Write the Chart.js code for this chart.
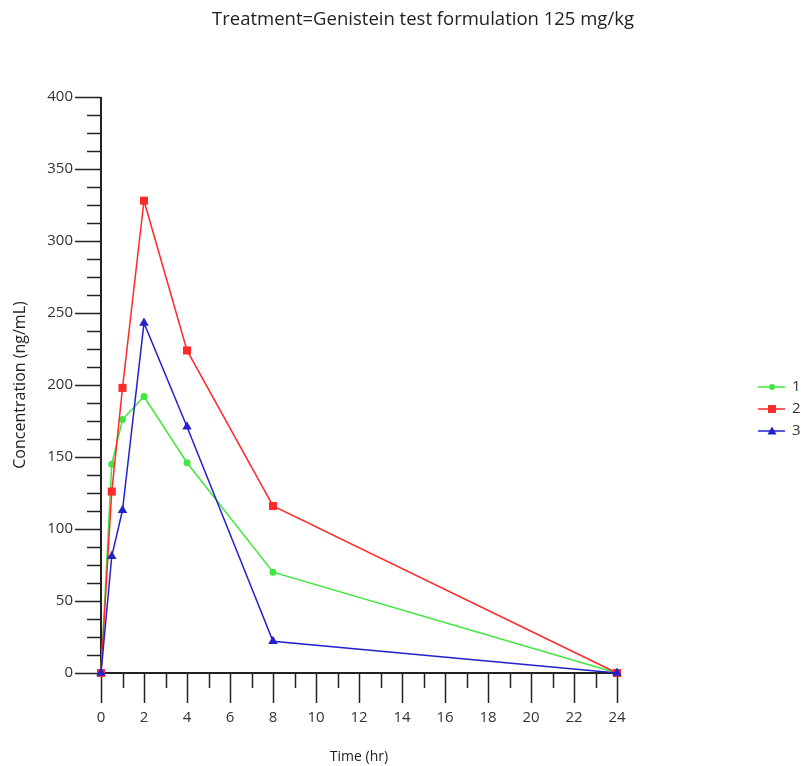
<!DOCTYPE html>
<html>
<head>
<meta charset="utf-8">
<script src="https://cdn.jsdelivr.net/npm/chart.js@4"></script>
<style>
  html, body { margin: 0; padding: 0; background: #fff; }
  #wrap { width: 801px; height: 766px; }
</style>
</head>
<body>
<div id="wrap"><canvas id="mychart" width="801" height="766"></canvas></div>
<script>
// time points (hr) and concentrations (ng/mL) per subject
var times = [0, 0.5, 1, 2, 4, 8, 24];
var subject1 = [0, 145, 176, 192, 146, 70, 0];
var subject2 = [0, 126, 198, 328, 224, 116, 0];
var subject3 = [0, 81, 113, 243, 171, 22, 0];
var seriesNames = ["1", "2", "3"];
var seriesColors = ["#3ee83e", "#ff2a2a", "#2222cc"];
var chartTitle = 'Treatment=Genistein test formulation 125 mg/kg';

var fontFamily = "'Open Sans', 'DejaVu Sans', sans-serif";

function toPoints(vals) {
  return vals.map(function(v, i) { return { x: times[i], y: v }; });
}

// axis lines + outward tick marks like the original software draws them
var axesPlugin = {
  id: 'axesTicks',
  beforeDatasetsDraw: function(chart) {
    var ctx = chart.ctx;
    var xs = chart.scales.x, ys = chart.scales.y;
    var x0 = xs.getPixelForValue(0), y0 = ys.getPixelForValue(0);
    ctx.save();
    ctx.strokeStyle = '#222';
    ctx.lineWidth = 1.5;
    ctx.beginPath();
    for (var v = 0; v <= 400; v += 12.5) {
      var py = Math.round(ys.getPixelForValue(v)) + 0.5;
      var len = (v % 50 === 0) ? 26 : 14;
      ctx.moveTo(x0, py);
      ctx.lineTo(x0 - len, py);
    }
    for (var t = 0; t <= 24; t++) {
      var px = Math.round(xs.getPixelForValue(t)) + 0.5;
      var l2 = (t % 2 === 0) ? 30 : 15;
      ctx.moveTo(px, y0);
      ctx.lineTo(px, y0 + l2);
    }
    ctx.stroke();
    ctx.lineWidth = 2;
    ctx.beginPath();
    ctx.moveTo(x0, ys.getPixelForValue(400));
    ctx.lineTo(x0, y0);
    ctx.lineTo(xs.getPixelForValue(24), y0);
    ctx.stroke();
    ctx.restore();
  }
};

// title (centred on the page, not the plot) and legend on the right
var sidePlugin = {
  id: 'sideLegend',
  afterDraw: function(chart) {
    var ctx = chart.ctx;
    ctx.save();
    ctx.fillStyle = '#222';
    ctx.font = '18.5px ' + fontFamily;
    ctx.textAlign = 'center';
    ctx.textBaseline = 'middle';
    ctx.fillText(chartTitle, 423, 20);
    ctx.textAlign = 'left';
    chart.data.datasets.forEach(function(ds, i) {
      var y = 387 + i * 22;
      ctx.strokeStyle = ds.borderColor;
      ctx.fillStyle = ds.borderColor;
      ctx.lineWidth = 1.5;
      ctx.beginPath();
      ctx.moveTo(758, y);
      ctx.lineTo(785, y);
      ctx.stroke();
      ctx.beginPath();
      if (i === 0) {
        ctx.arc(772, y, 3, 0, Math.PI * 2);
      } else if (i === 1) {
        ctx.rect(768, y - 4, 8, 8);
      } else {
        ctx.moveTo(772, y - 4.5);
        ctx.lineTo(776.5, y + 3.5);
        ctx.lineTo(767.5, y + 3.5);
        ctx.closePath();
      }
      ctx.fill();
      ctx.fillStyle = '#333';
      ctx.font = '15px ' + fontFamily;
      ctx.fillText(ds.label, 792, y);
    });
    ctx.restore();
  }
};

var context = document.getElementById("mychart").getContext("2d");
var chart = new Chart(context, {
  type: 'line',
  data: {
    datasets: [
      {
        label: seriesNames[0],
        data: toPoints(subject1),
        borderColor: seriesColors[0],
        backgroundColor: seriesColors[0],
        pointStyle: 'circle',
        pointRadius: 3.5,
        clip: false,
        order: 3
      },
      {
        label: seriesNames[1],
        data: toPoints(subject2),
        borderColor: seriesColors[1],
        backgroundColor: seriesColors[1],
        pointStyle: 'rect',
        pointRadius: 5.7,
        clip: false,
        order: 2
      },
      {
        label: seriesNames[2],
        data: toPoints(subject3),
        borderColor: seriesColors[2],
        backgroundColor: seriesColors[2],
        pointStyle: 'triangle',
        pointRadius: 5.5,
        clip: false,
        order: 1
      }
    ]
  },
  options: {
    responsive: false,
    animation: false,
    elements: {
      line: { borderWidth: 1.5, tension: 0 },
      point: { borderWidth: 0, hoverRadius: 5 }
    },
    layout: { padding: { left: 0, right: 184, top: 97, bottom: 0 } },
    plugins: {
      legend: { display: false },
      tooltip: { enabled: false },
      title: { display: false }
    },
    scales: {
      x: {
        type: 'linear',
        min: 0,
        max: 24,
        grid: { display: false, drawTicks: false },
        border: { display: false },
        ticks: {
          stepSize: 2,
          padding: 36,
          color: '#333',
          font: { family: fontFamily, size: 15 }
        },
        title: {
          display: true,
          text: 'Time (hr)',
          color: '#222',
          font: { family: fontFamily, size: 14 },
          padding: { top: 0, bottom: 1 }
        },
        afterFit: function(s) { s.height = 93; }
      },
      y: {
        min: 0,
        max: 400,
        grid: { display: false, drawTicks: false },
        border: { display: false },
        ticks: {
          stepSize: 50,
          padding: 28,
          color: '#333',
          font: { family: fontFamily, size: 15 }
        },
        title: {
          display: true,
          text: 'Concentration (ng/mL)',
          color: '#222',
          font: { family: fontFamily, size: 16 },
          padding: { top: 11, bottom: 0 }
        },
        afterFit: function(s) { s.width = 101; }
      }
    }
  },
  plugins: [axesPlugin, sidePlugin]
});
</script>
</body>
</html>
